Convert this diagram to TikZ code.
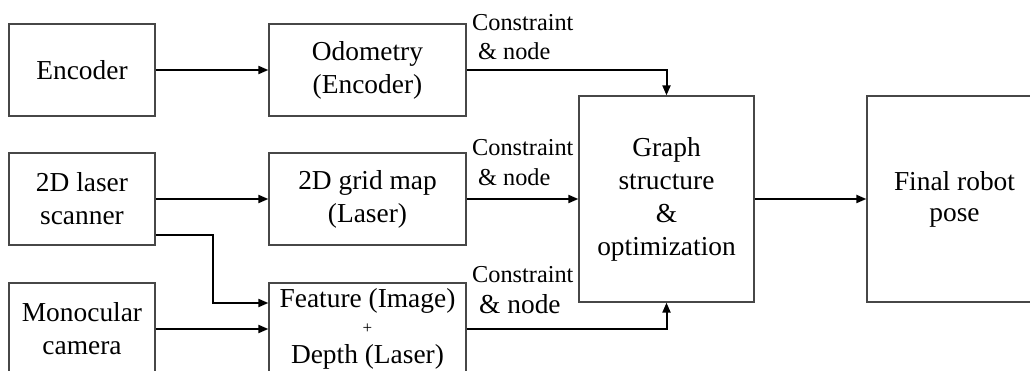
\documentclass[tikz,border=0pt]{standalone}
\usepackage{fontspec}
\setmainfont{Liberation Serif}
\usetikzlibrary{arrows.meta}
\newcommand{\txtdown}[2]{\raisebox{-#1}{\begin{tabular}{@{}c@{}}#2\end{tabular}}}
\begin{document}
\begin{tikzpicture}[x=1pt,y=-1pt,
  box/.style={draw=black!72, line width=1.3pt, align=center, inner sep=0pt,
    font=\fontsize{27.4}{33}\selectfont},
  arr/.style={line width=2pt, -{Triangle[length=10pt,width=8pt]}},
  lab/.style={anchor=base west, inner sep=0pt, font=\fontsize{24.3}{29}\selectfont},
  labbig/.style={anchor=base west, inner sep=0pt, font=\fontsize{27.4}{33}\selectfont}]
\useasboundingbox (0,0) rectangle (1030,371);
\clip (0,0) rectangle (1030,371);
% left column
\node[box, minimum width=146pt, minimum height=92pt] (enc) at (82,70) {Encoder};
\node[box, minimum width=146pt, minimum height=92pt] (laser) at (82,199) {2D laser\\scanner};
\node[box, minimum width=146pt, minimum height=92pt] (mono) at (82,329) {Monocular\\camera};
% middle column
\node[box, minimum width=197pt, minimum height=92pt] (odo) at (367.5,70) {\txtdown{2.5pt}{Odometry\\(Encoder)}};
\node[box, minimum width=197pt, minimum height=92pt] (grid) at (367.5,199) {2D grid map\\(Laser)};
\node[box, minimum width=197pt, minimum height=92pt] (feat) at (367.5,329)
  {Feature (Image)\\[-7pt]{\fontsize{17}{18}\selectfont +}\\[-3pt]Depth (Laser)};
% right
\node[box, minimum width=175pt, minimum height=206pt] (graph) at (666.5,199)
  {\txtdown{2.5pt}{Graph\\structure\\\&\\optimization}};
\node[box, minimum width=175pt, minimum height=206pt] (final) at (954.5,199)
  {\txtdown{3.5pt}{Final robot\\[-2pt]pose}};
% labels
\node[lab] (c1) at (472,31) {Constraint};
\node[lab] (n1) at (478,60) {\& node};
\node[lab] (c2) at (472,156) {Constraint};
\node[lab] (n2) at (478,186) {\& node};
\node[lab] (c3) at (472,283) {Constraint};
\node[labbig] (n3) at (479,313) {\& node};
% connectors
\draw[arr] (enc) -- (odo);
\draw[arr] (laser) -- (grid);
\draw[arr] (mono) -- (feat);
\draw[arr] ([yshift=-36pt]laser.east) -- ++(57,0) |- ([yshift=26pt]feat.west);
\draw[arr] (odo.east) -| (graph.north);
\draw[arr] (grid) -- (graph);
\draw[arr] (feat.east) -| (graph.south);
\draw[arr] (graph) -- (final);
\end{tikzpicture}
\end{document}
